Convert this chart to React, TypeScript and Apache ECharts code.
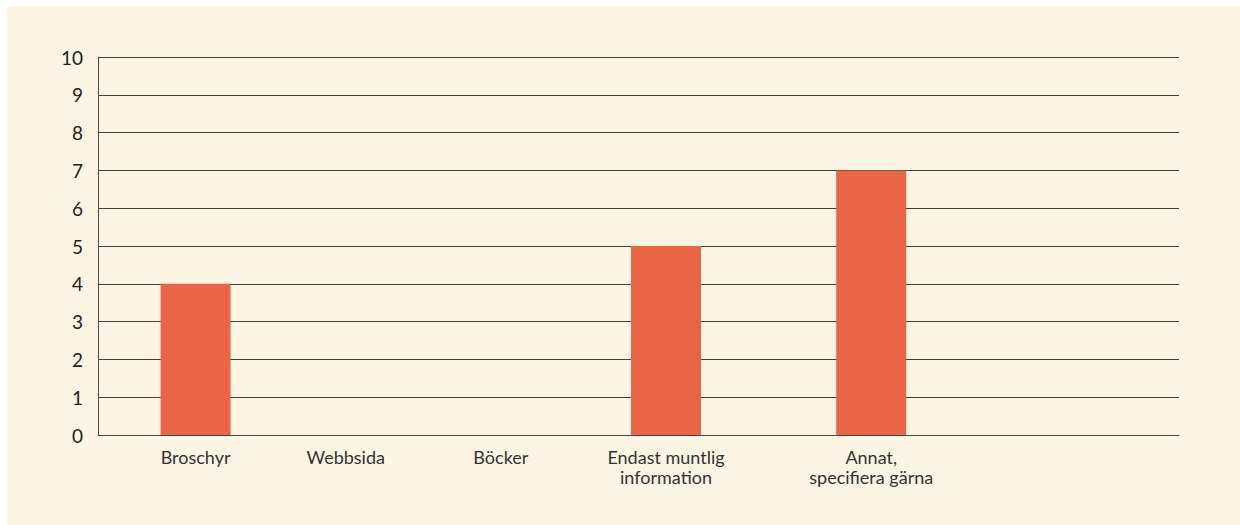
import React, { useEffect, useRef } from "react";
import * as echarts from "echarts";

// Data
const categories = ["Broschyr", "Webbsida", "Böcker", "Endast muntlig\ninformation", "Annat,\nspecifiera gärna"];
const values = [4, 0, 0, 5, 7];
const yTicks = [0, 1, 2, 3, 4, 5, 6, 7, 8, 9, 10];

// Layout: the original places categories irregularly along the axis; we use a fine slot grid
const slotCount = 216;
const categorySlots = [19, 49, 80, 113, 154];

export default function App() {
  const ref = useRef<HTMLDivElement>(null);
  useEffect(() => {
    document.body.style.margin = "0";
    const chart = echarts.init(ref.current!, null, { renderer: "svg" });
    const slotLabels: string[] = new Array(slotCount).fill("");
    const slotValues: (number | string)[] = new Array(slotCount).fill("-");
    categorySlots.forEach((s, i) => {
      slotLabels[s] = categories[i];
      slotValues[s] = values[i];
    });
    chart.setOption({
      animation: false,
      backgroundColor: "transparent",
      textStyle: { fontFamily: "Lato" },
      grid: { left: 91, right: 61, top: 51, bottom: 90, containLabel: false },
      xAxis: {
        type: "category",
        data: slotLabels,
        axisLine: { show: true, lineStyle: { color: "#4a4a4a", width: 1 } },
        axisTick: { show: false },
        axisLabel: {
          interval: 0,
          color: "#333333",
          fontFamily: "Lato",
          fontSize: 18,
          lineHeight: 20,
          margin: 12,
          hideOverlap: false,
        },
        splitLine: { show: false },
      },
      yAxis: {
        type: "value",
        min: yTicks[0],
        max: yTicks[yTicks.length - 1],
        interval: 1,
        axisLine: { show: true, lineStyle: { color: "#4a4a4a", width: 1 } },
        axisTick: { show: false },
        axisLabel: { color: "#222222", fontFamily: "Lato", fontSize: 19, margin: 15 },
        splitLine: { show: true, lineStyle: { color: "#3f3f3f", width: 1 } },
      },
      series: [
        {
          type: "bar",
          data: slotValues,
          barWidth: 70,
          itemStyle: { color: "#E96546" },
        },
      ],
    });
    return () => chart.dispose();
  }, []);
  return (
    <div
      style={{
        position: "absolute",
        left: 7,
        top: 6,
        width: 1233,
        height: 519,
        background: "#FDF5E4",
      }}
    >
      <div ref={ref} style={{ width: 1233, height: 519 }} />
    </div>
  );
}
